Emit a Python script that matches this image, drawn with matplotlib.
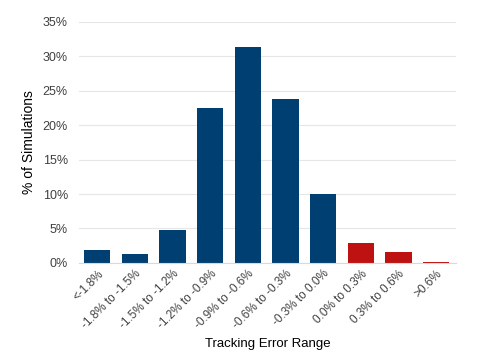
import matplotlib.pyplot as plt
from matplotlib.ticker import PercentFormatter

plt.rcParams['font.family'] = ['Liberation Sans', 'DejaVu Sans']

categories = ['<-1.8%', '-1.8% to -1.5%', '-1.5% to -1.2%', '-1.2% to -0.9%',
              '-0.9% to -0.6%', '-0.6% to -0.3%', '-0.3% to 0.0%',
              '0.0% to 0.3%', '0.3% to 0.6%', '>0.6%']
values = [1.9, 1.3, 4.75, 22.45, 31.3, 23.8, 10.0, 2.95, 1.55, 0.2]
colors = ['#003f72'] * 7 + ['#be1212'] * 3

fig = plt.figure(figsize=(5, 3.52), dpi=100)
ax = fig.add_axes([0.158, 0.253, 0.754, 0.685])

x = range(len(categories))
ax.bar(x, values, width=0.7, color=colors, zorder=2)

ax.set_ylim(0, 35)
ax.set_xlim(-0.48, 9.53)
ax.set_yticks(range(0, 36, 5))
ax.yaxis.set_major_formatter(PercentFormatter(decimals=0))
ax.grid(axis='y', color='#e6e6e6', linewidth=0.8, zorder=0)
for s in ['top', 'right', 'left']:
    ax.spines[s].set_visible(False)
ax.spines['bottom'].set_color('#d9d9d9')
ax.tick_params(axis='both', length=0, colors='#404040', labelsize=9)
ax.tick_params(axis='y', pad=8)

ax.set_xticks(list(x))
ax.set_xticklabels(categories, rotation=45, ha='right', rotation_mode='anchor',
                   fontsize=8.5)
ax.set_xlabel('Tracking Error Range', fontsize=9.5, color='black', labelpad=5)
ax.set_ylabel('% of Simulations', fontsize=10, color='black', labelpad=5)

fig.savefig('out.png', dpi=100)
